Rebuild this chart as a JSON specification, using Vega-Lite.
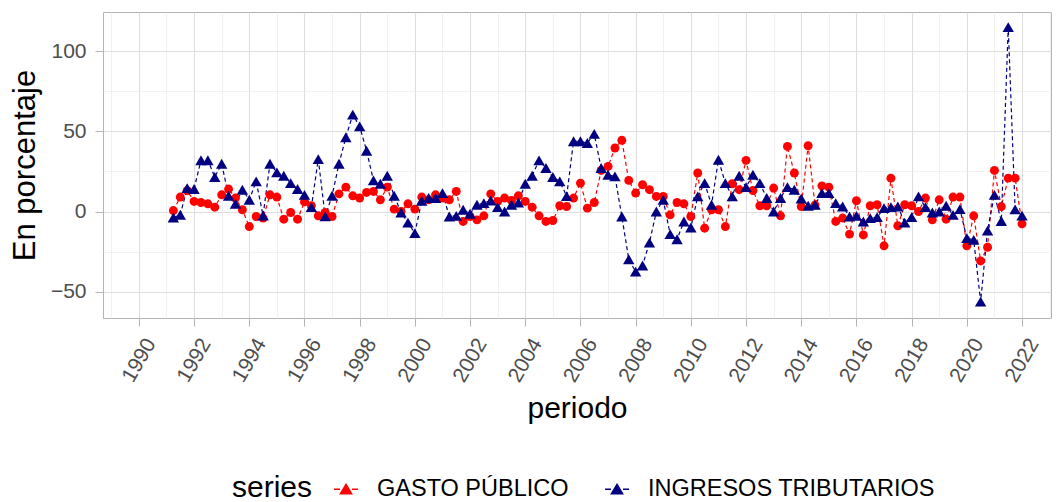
{
  "$schema": "https://vega.github.io/schema/vega-lite/v6.json",
  "width": 948,
  "height": 306,
  "autosize": {"type": "none"},
  "padding": {"left": 103, "top": 12, "right": 8, "bottom": 184},
  "background": "white",
  "config": {
    "font": "Liberation Sans",
    "view": {"stroke": "#B3B3B3", "strokeWidth": 1}
  },
  "data": {"values": [
    {"periodo":1991.25,"valor":0.6,"series":"GASTO PÚBLICO"},{"periodo":1991.5,"valor":9,"series":"GASTO PÚBLICO"},{"periodo":1991.75,"valor":13,"series":"GASTO PÚBLICO"},
    {"periodo":1992,"valor":6.3,"series":"GASTO PÚBLICO"},{"periodo":1992.25,"valor":5.6,"series":"GASTO PÚBLICO"},{"periodo":1992.5,"valor":4.8,"series":"GASTO PÚBLICO"},{"periodo":1992.75,"valor":2.7,"series":"GASTO PÚBLICO"},
    {"periodo":1993,"valor":10.4,"series":"GASTO PÚBLICO"},{"periodo":1993.25,"valor":14,"series":"GASTO PÚBLICO"},{"periodo":1993.5,"valor":8.4,"series":"GASTO PÚBLICO"},{"periodo":1993.75,"valor":1.1,"series":"GASTO PÚBLICO"},
    {"periodo":1994,"valor":-9.4,"series":"GASTO PÚBLICO"},{"periodo":1994.25,"valor":-3.1,"series":"GASTO PÚBLICO"},{"periodo":1994.5,"valor":-4.1,"series":"GASTO PÚBLICO"},{"periodo":1994.75,"valor":10.4,"series":"GASTO PÚBLICO"},
    {"periodo":1995,"valor":9,"series":"GASTO PÚBLICO"},{"periodo":1995.25,"valor":-4.8,"series":"GASTO PÚBLICO"},{"periodo":1995.5,"valor":-0.6,"series":"GASTO PÚBLICO"},{"periodo":1995.75,"valor":-4.8,"series":"GASTO PÚBLICO"},
    {"periodo":1996,"valor":6,"series":"GASTO PÚBLICO"},{"periodo":1996.25,"valor":3.6,"series":"GASTO PÚBLICO"},{"periodo":1996.5,"valor":-2.7,"series":"GASTO PÚBLICO"},{"periodo":1996.75,"valor":-0.6,"series":"GASTO PÚBLICO"},
    {"periodo":1997,"valor":-3.1,"series":"GASTO PÚBLICO"},{"periodo":1997.25,"valor":11,"series":"GASTO PÚBLICO"},{"periodo":1997.5,"valor":15.2,"series":"GASTO PÚBLICO"},{"periodo":1997.75,"valor":9.8,"series":"GASTO PÚBLICO"},
    {"periodo":1998,"valor":8.4,"series":"GASTO PÚBLICO"},{"periodo":1998.25,"valor":11.9,"series":"GASTO PÚBLICO"},{"periodo":1998.5,"valor":12.5,"series":"GASTO PÚBLICO"},{"periodo":1998.75,"valor":7.3,"series":"GASTO PÚBLICO"},
    {"periodo":1999,"valor":15.2,"series":"GASTO PÚBLICO"},{"periodo":1999.25,"valor":1.5,"series":"GASTO PÚBLICO"},{"periodo":1999.5,"valor":0,"series":"GASTO PÚBLICO"},{"periodo":1999.75,"valor":4.8,"series":"GASTO PÚBLICO"},
    {"periodo":2000,"valor":1.5,"series":"GASTO PÚBLICO"},{"periodo":2000.25,"valor":9,"series":"GASTO PÚBLICO"},{"periodo":2000.5,"valor":7.3,"series":"GASTO PÚBLICO"},{"periodo":2000.75,"valor":10.4,"series":"GASTO PÚBLICO"},
    {"periodo":2001,"valor":8.4,"series":"GASTO PÚBLICO"},{"periodo":2001.25,"valor":7.3,"series":"GASTO PÚBLICO"},{"periodo":2001.5,"valor":12.5,"series":"GASTO PÚBLICO"},{"periodo":2001.75,"valor":-6.2,"series":"GASTO PÚBLICO"},
    {"periodo":2002,"valor":-3.1,"series":"GASTO PÚBLICO"},{"periodo":2002.25,"valor":-5.2,"series":"GASTO PÚBLICO"},{"periodo":2002.5,"valor":-2.7,"series":"GASTO PÚBLICO"},{"periodo":2002.75,"valor":11,"series":"GASTO PÚBLICO"},
    {"periodo":2003,"valor":6.3,"series":"GASTO PÚBLICO"},{"periodo":2003.25,"valor":8.4,"series":"GASTO PÚBLICO"},{"periodo":2003.5,"valor":6.9,"series":"GASTO PÚBLICO"},{"periodo":2003.75,"valor":9.8,"series":"GASTO PÚBLICO"},
    {"periodo":2004,"valor":6.3,"series":"GASTO PÚBLICO"},{"periodo":2004.25,"valor":2.7,"series":"GASTO PÚBLICO"},{"periodo":2004.5,"valor":-2.7,"series":"GASTO PÚBLICO"},{"periodo":2004.75,"valor":-6.2,"series":"GASTO PÚBLICO"},
    {"periodo":2005,"valor":-5.6,"series":"GASTO PÚBLICO"},{"periodo":2005.25,"valor":3.6,"series":"GASTO PÚBLICO"},{"periodo":2005.5,"valor":3.1,"series":"GASTO PÚBLICO"},{"periodo":2005.75,"valor":8.4,"series":"GASTO PÚBLICO"},
    {"periodo":2006,"valor":17.7,"series":"GASTO PÚBLICO"},{"periodo":2006.25,"valor":2.1,"series":"GASTO PÚBLICO"},{"periodo":2006.5,"valor":5.6,"series":"GASTO PÚBLICO"},{"periodo":2006.75,"valor":25.6,"series":"GASTO PÚBLICO"},
    {"periodo":2007,"valor":28.1,"series":"GASTO PÚBLICO"},{"periodo":2007.25,"valor":39.6,"series":"GASTO PÚBLICO"},{"periodo":2007.5,"valor":44.4,"series":"GASTO PÚBLICO"},{"periodo":2007.75,"valor":19.4,"series":"GASTO PÚBLICO"},
    {"periodo":2008,"valor":11.5,"series":"GASTO PÚBLICO"},{"periodo":2008.25,"valor":16.7,"series":"GASTO PÚBLICO"},{"periodo":2008.5,"valor":13.6,"series":"GASTO PÚBLICO"},{"periodo":2008.75,"valor":9.4,"series":"GASTO PÚBLICO"},
    {"periodo":2009,"valor":9.4,"series":"GASTO PÚBLICO"},{"periodo":2009.25,"valor":-2.1,"series":"GASTO PÚBLICO"},{"periodo":2009.5,"valor":5.6,"series":"GASTO PÚBLICO"},{"periodo":2009.75,"valor":4.8,"series":"GASTO PÚBLICO"},
    {"periodo":2010,"valor":-3.1,"series":"GASTO PÚBLICO"},{"periodo":2010.25,"valor":24,"series":"GASTO PÚBLICO"},{"periodo":2010.5,"valor":-10.4,"series":"GASTO PÚBLICO"},{"periodo":2010.75,"valor":1.1,"series":"GASTO PÚBLICO"},
    {"periodo":2011,"valor":1.1,"series":"GASTO PÚBLICO"},{"periodo":2011.25,"valor":-9.4,"series":"GASTO PÚBLICO"},{"periodo":2011.5,"valor":17.3,"series":"GASTO PÚBLICO"},{"periodo":2011.75,"valor":13.6,"series":"GASTO PÚBLICO"},
    {"periodo":2012,"valor":31.9,"series":"GASTO PÚBLICO"},{"periodo":2012.25,"valor":13.1,"series":"GASTO PÚBLICO"},{"periodo":2012.5,"valor":3.6,"series":"GASTO PÚBLICO"},{"periodo":2012.75,"valor":3.6,"series":"GASTO PÚBLICO"},
    {"periodo":2013,"valor":14.6,"series":"GASTO PÚBLICO"},{"periodo":2013.25,"valor":-2.7,"series":"GASTO PÚBLICO"},{"periodo":2013.5,"valor":40.6,"series":"GASTO PÚBLICO"},{"periodo":2013.75,"valor":24,"series":"GASTO PÚBLICO"},
    {"periodo":2014,"valor":3.1,"series":"GASTO PÚBLICO"},{"periodo":2014.25,"valor":41,"series":"GASTO PÚBLICO"},{"periodo":2014.5,"valor":4,"series":"GASTO PÚBLICO"},{"periodo":2014.75,"valor":16,"series":"GASTO PÚBLICO"},
    {"periodo":2015,"valor":15.2,"series":"GASTO PÚBLICO"},{"periodo":2015.25,"valor":-6.2,"series":"GASTO PÚBLICO"},{"periodo":2015.5,"valor":-4.1,"series":"GASTO PÚBLICO"},{"periodo":2015.75,"valor":-14.1,"series":"GASTO PÚBLICO"},
    {"periodo":2016,"valor":6.7,"series":"GASTO PÚBLICO"},{"periodo":2016.25,"valor":-14.6,"series":"GASTO PÚBLICO"},{"periodo":2016.5,"valor":3.6,"series":"GASTO PÚBLICO"},{"periodo":2016.75,"valor":4.2,"series":"GASTO PÚBLICO"},
    {"periodo":2017,"valor":-21.4,"series":"GASTO PÚBLICO"},{"periodo":2017.25,"valor":20.8,"series":"GASTO PÚBLICO"},{"periodo":2017.5,"valor":-8.9,"series":"GASTO PÚBLICO"},{"periodo":2017.75,"valor":4.2,"series":"GASTO PÚBLICO"},
    {"periodo":2018,"valor":3.6,"series":"GASTO PÚBLICO"},{"periodo":2018.25,"valor":0,"series":"GASTO PÚBLICO"},{"periodo":2018.5,"valor":8.4,"series":"GASTO PÚBLICO"},{"periodo":2018.75,"valor":-5.2,"series":"GASTO PÚBLICO"},
    {"periodo":2019,"valor":7.3,"series":"GASTO PÚBLICO"},{"periodo":2019.25,"valor":-4.8,"series":"GASTO PÚBLICO"},{"periodo":2019.5,"valor":9,"series":"GASTO PÚBLICO"},{"periodo":2019.75,"valor":9,"series":"GASTO PÚBLICO"},
    {"periodo":2020,"valor":-21.4,"series":"GASTO PÚBLICO"},{"periodo":2020.25,"valor":-2.7,"series":"GASTO PÚBLICO"},{"periodo":2020.5,"valor":-30.8,"series":"GASTO PÚBLICO"},{"periodo":2020.75,"valor":-22.3,"series":"GASTO PÚBLICO"},
    {"periodo":2021,"valor":25.6,"series":"GASTO PÚBLICO"},{"periodo":2021.25,"valor":3.1,"series":"GASTO PÚBLICO"},{"periodo":2021.5,"valor":20.8,"series":"GASTO PÚBLICO"},{"periodo":2021.75,"valor":20.8,"series":"GASTO PÚBLICO"},
    {"periodo":2022,"valor":-7.7,"series":"GASTO PÚBLICO"},
    {"periodo":1991.25,"valor":-3.7,"series":"INGRESOS TRIBUTARIOS"},{"periodo":1991.5,"valor":-2,"series":"INGRESOS TRIBUTARIOS"},{"periodo":1991.75,"valor":14.6,"series":"INGRESOS TRIBUTARIOS"},
    {"periodo":1992,"valor":14,"series":"INGRESOS TRIBUTARIOS"},{"periodo":1992.25,"valor":32,"series":"INGRESOS TRIBUTARIOS"},{"periodo":1992.5,"valor":32,"series":"INGRESOS TRIBUTARIOS"},{"periodo":1992.75,"valor":21.5,"series":"INGRESOS TRIBUTARIOS"},
    {"periodo":1993,"valor":29.8,"series":"INGRESOS TRIBUTARIOS"},{"periodo":1993.25,"valor":9.8,"series":"INGRESOS TRIBUTARIOS"},{"periodo":1993.5,"valor":4.8,"series":"INGRESOS TRIBUTARIOS"},{"periodo":1993.75,"valor":13.6,"series":"INGRESOS TRIBUTARIOS"},
    {"periodo":1994,"valor":7.3,"series":"INGRESOS TRIBUTARIOS"},{"periodo":1994.25,"valor":18.8,"series":"INGRESOS TRIBUTARIOS"},{"periodo":1994.5,"valor":-2.5,"series":"INGRESOS TRIBUTARIOS"},{"periodo":1994.75,"valor":29.8,"series":"INGRESOS TRIBUTARIOS"},
    {"periodo":1995,"valor":24.4,"series":"INGRESOS TRIBUTARIOS"},{"periodo":1995.25,"valor":22.3,"series":"INGRESOS TRIBUTARIOS"},{"periodo":1995.5,"valor":17.7,"series":"INGRESOS TRIBUTARIOS"},{"periodo":1995.75,"valor":14,"series":"INGRESOS TRIBUTARIOS"},
    {"periodo":1996,"valor":10.4,"series":"INGRESOS TRIBUTARIOS"},{"periodo":1996.25,"valor":2.7,"series":"INGRESOS TRIBUTARIOS"},{"periodo":1996.5,"valor":32.7,"series":"INGRESOS TRIBUTARIOS"},{"periodo":1996.75,"valor":-3,"series":"INGRESOS TRIBUTARIOS"},
    {"periodo":1997,"valor":9.8,"series":"INGRESOS TRIBUTARIOS"},{"periodo":1997.25,"valor":29.8,"series":"INGRESOS TRIBUTARIOS"},{"periodo":1997.5,"valor":46.3,"series":"INGRESOS TRIBUTARIOS"},{"periodo":1997.75,"valor":60.4,"series":"INGRESOS TRIBUTARIOS"},
    {"periodo":1998,"valor":53.1,"series":"INGRESOS TRIBUTARIOS"},{"periodo":1998.25,"valor":37.9,"series":"INGRESOS TRIBUTARIOS"},{"periodo":1998.5,"valor":19.4,"series":"INGRESOS TRIBUTARIOS"},{"periodo":1998.75,"valor":17.3,"series":"INGRESOS TRIBUTARIOS"},
    {"periodo":1999,"valor":22.3,"series":"INGRESOS TRIBUTARIOS"},{"periodo":1999.25,"valor":9.8,"series":"INGRESOS TRIBUTARIOS"},{"periodo":1999.5,"valor":-0.6,"series":"INGRESOS TRIBUTARIOS"},{"periodo":1999.75,"valor":-6.9,"series":"INGRESOS TRIBUTARIOS"},
    {"periodo":2000,"valor":-13.5,"series":"INGRESOS TRIBUTARIOS"},{"periodo":2000.25,"valor":6.7,"series":"INGRESOS TRIBUTARIOS"},{"periodo":2000.5,"valor":8.4,"series":"INGRESOS TRIBUTARIOS"},{"periodo":2000.75,"valor":8.4,"series":"INGRESOS TRIBUTARIOS"},
    {"periodo":2001,"valor":11.5,"series":"INGRESOS TRIBUTARIOS"},{"periodo":2001.25,"valor":-3.1,"series":"INGRESOS TRIBUTARIOS"},{"periodo":2001.5,"valor":-2.7,"series":"INGRESOS TRIBUTARIOS"},{"periodo":2001.75,"valor":1.1,"series":"INGRESOS TRIBUTARIOS"},
    {"periodo":2002,"valor":-1.4,"series":"INGRESOS TRIBUTARIOS"},{"periodo":2002.25,"valor":4.2,"series":"INGRESOS TRIBUTARIOS"},{"periodo":2002.5,"valor":5.2,"series":"INGRESOS TRIBUTARIOS"},{"periodo":2002.75,"valor":6.9,"series":"INGRESOS TRIBUTARIOS"},
    {"periodo":2003,"valor":2.7,"series":"INGRESOS TRIBUTARIOS"},{"periodo":2003.25,"valor":0,"series":"INGRESOS TRIBUTARIOS"},{"periodo":2003.5,"valor":4.2,"series":"INGRESOS TRIBUTARIOS"},{"periodo":2003.75,"valor":5.6,"series":"INGRESOS TRIBUTARIOS"},
    {"periodo":2004,"valor":17.3,"series":"INGRESOS TRIBUTARIOS"},{"periodo":2004.25,"valor":22.3,"series":"INGRESOS TRIBUTARIOS"},{"periodo":2004.5,"valor":31.9,"series":"INGRESOS TRIBUTARIOS"},{"periodo":2004.75,"valor":27.1,"series":"INGRESOS TRIBUTARIOS"},
    {"periodo":2005,"valor":21.5,"series":"INGRESOS TRIBUTARIOS"},{"periodo":2005.25,"valor":18.8,"series":"INGRESOS TRIBUTARIOS"},{"periodo":2005.5,"valor":9.6,"series":"INGRESOS TRIBUTARIOS"},{"periodo":2005.75,"valor":43.8,"series":"INGRESOS TRIBUTARIOS"},
    {"periodo":2006,"valor":43.8,"series":"INGRESOS TRIBUTARIOS"},{"periodo":2006.25,"valor":42.7,"series":"INGRESOS TRIBUTARIOS"},{"periodo":2006.5,"valor":48.4,"series":"INGRESOS TRIBUTARIOS"},{"periodo":2006.75,"valor":27.1,"series":"INGRESOS TRIBUTARIOS"},
    {"periodo":2007,"valor":22.9,"series":"INGRESOS TRIBUTARIOS"},{"periodo":2007.25,"valor":21.9,"series":"INGRESOS TRIBUTARIOS"},{"periodo":2007.5,"valor":-3.1,"series":"INGRESOS TRIBUTARIOS"},{"periodo":2007.75,"valor":-29.8,"series":"INGRESOS TRIBUTARIOS"},
    {"periodo":2008,"valor":-37.5,"series":"INGRESOS TRIBUTARIOS"},{"periodo":2008.25,"valor":-33.7,"series":"INGRESOS TRIBUTARIOS"},{"periodo":2008.5,"valor":-19.4,"series":"INGRESOS TRIBUTARIOS"},{"periodo":2008.75,"valor":0,"series":"INGRESOS TRIBUTARIOS"},
    {"periodo":2009,"valor":7.3,"series":"INGRESOS TRIBUTARIOS"},{"periodo":2009.25,"valor":-14.1,"series":"INGRESOS TRIBUTARIOS"},{"periodo":2009.5,"valor":-17.3,"series":"INGRESOS TRIBUTARIOS"},{"periodo":2009.75,"valor":-6.2,"series":"INGRESOS TRIBUTARIOS"},
    {"periodo":2010,"valor":-10,"series":"INGRESOS TRIBUTARIOS"},{"periodo":2010.25,"valor":9.4,"series":"INGRESOS TRIBUTARIOS"},{"periodo":2010.5,"valor":17.7,"series":"INGRESOS TRIBUTARIOS"},{"periodo":2010.75,"valor":4.2,"series":"INGRESOS TRIBUTARIOS"},
    {"periodo":2011,"valor":32.3,"series":"INGRESOS TRIBUTARIOS"},{"periodo":2011.25,"valor":17.7,"series":"INGRESOS TRIBUTARIOS"},{"periodo":2011.5,"valor":9.4,"series":"INGRESOS TRIBUTARIOS"},{"periodo":2011.75,"valor":22.3,"series":"INGRESOS TRIBUTARIOS"},
    {"periodo":2012,"valor":15.2,"series":"INGRESOS TRIBUTARIOS"},{"periodo":2012.25,"valor":22.9,"series":"INGRESOS TRIBUTARIOS"},{"periodo":2012.5,"valor":17.7,"series":"INGRESOS TRIBUTARIOS"},{"periodo":2012.75,"valor":8.4,"series":"INGRESOS TRIBUTARIOS"},
    {"periodo":2013,"valor":0,"series":"INGRESOS TRIBUTARIOS"},{"periodo":2013.25,"valor":8.4,"series":"INGRESOS TRIBUTARIOS"},{"periodo":2013.5,"valor":15.2,"series":"INGRESOS TRIBUTARIOS"},{"periodo":2013.75,"valor":13.6,"series":"INGRESOS TRIBUTARIOS"},
    {"periodo":2014,"valor":8,"series":"INGRESOS TRIBUTARIOS"},{"periodo":2014.25,"valor":3.6,"series":"INGRESOS TRIBUTARIOS"},{"periodo":2014.5,"valor":4.2,"series":"INGRESOS TRIBUTARIOS"},{"periodo":2014.75,"valor":11.5,"series":"INGRESOS TRIBUTARIOS"},
    {"periodo":2015,"valor":11.5,"series":"INGRESOS TRIBUTARIOS"},{"periodo":2015.25,"valor":5.2,"series":"INGRESOS TRIBUTARIOS"},{"periodo":2015.5,"valor":3.1,"series":"INGRESOS TRIBUTARIOS"},{"periodo":2015.75,"valor":-3.1,"series":"INGRESOS TRIBUTARIOS"},
    {"periodo":2016,"valor":-2.7,"series":"INGRESOS TRIBUTARIOS"},{"periodo":2016.25,"valor":-6.2,"series":"INGRESOS TRIBUTARIOS"},{"periodo":2016.5,"valor":-4.1,"series":"INGRESOS TRIBUTARIOS"},{"periodo":2016.75,"valor":-3.5,"series":"INGRESOS TRIBUTARIOS"},
    {"periodo":2017,"valor":2.1,"series":"INGRESOS TRIBUTARIOS"},{"periodo":2017.25,"valor":2.7,"series":"INGRESOS TRIBUTARIOS"},{"periodo":2017.5,"valor":3.1,"series":"INGRESOS TRIBUTARIOS"},{"periodo":2017.75,"valor":-6.9,"series":"INGRESOS TRIBUTARIOS"},
    {"periodo":2018,"valor":-3.5,"series":"INGRESOS TRIBUTARIOS"},{"periodo":2018.25,"valor":9.4,"series":"INGRESOS TRIBUTARIOS"},{"periodo":2018.5,"valor":2.7,"series":"INGRESOS TRIBUTARIOS"},{"periodo":2018.75,"valor":-0.6,"series":"INGRESOS TRIBUTARIOS"},
    {"periodo":2019,"valor":0,"series":"INGRESOS TRIBUTARIOS"},{"periodo":2019.25,"valor":3.6,"series":"INGRESOS TRIBUTARIOS"},{"periodo":2019.5,"valor":-2.1,"series":"INGRESOS TRIBUTARIOS"},{"periodo":2019.75,"valor":1.5,"series":"INGRESOS TRIBUTARIOS"},
    {"periodo":2020,"valor":-16.6,"series":"INGRESOS TRIBUTARIOS"},{"periodo":2020.25,"valor":-17.7,"series":"INGRESOS TRIBUTARIOS"},{"periodo":2020.5,"valor":-56.2,"series":"INGRESOS TRIBUTARIOS"},{"periodo":2020.75,"valor":-11.9,"series":"INGRESOS TRIBUTARIOS"},
    {"periodo":2021,"valor":10.4,"series":"INGRESOS TRIBUTARIOS"},{"periodo":2021.25,"valor":-5.9,"series":"INGRESOS TRIBUTARIOS"},{"periodo":2021.5,"valor":115,"series":"INGRESOS TRIBUTARIOS"},{"periodo":2021.75,"valor":1.3,"series":"INGRESOS TRIBUTARIOS"},
    {"periodo":2022,"valor":-2.6,"series":"INGRESOS TRIBUTARIOS"}
  ]},
  "resolve": {"axis": {"x": "independent", "y": "independent"}, "legend": {"color": "independent"}},
  "layer": [
    {
      "mark": {"type": "line", "strokeDash": [4, 3], "strokeWidth": 1.2},
      "encoding": {
        "x": {"field": "periodo", "type": "quantitative",
              "scale": {"domain": [1988.7, 2023.05], "nice": false, "zero": false},
              "axis": {"values": [1989,1991,1993,1995,1997,1999,2001,2003,2005,2007,2009,2011,2013,2015,2017,2019,2021,2023],
                       "grid": true, "gridColor": "#EBEBEB", "gridWidth": 0.7, "labels": false, "ticks": false, "domain": false, "title": null, "orient": "bottom"}},
        "y": {"field": "valor", "type": "quantitative",
              "scale": {"domain": [-66.4, 124.4], "nice": false, "zero": false},
              "axis": {"values": [-25, 25, 75], "grid": true, "gridColor": "#EBEBEB", "gridWidth": 0.7, "labels": false, "ticks": false, "domain": false, "title": null, "orient": "left"}},
        "color": {"field": "series", "type": "nominal",
                  "scale": {"domain": ["GASTO PÚBLICO", "INGRESOS TRIBUTARIOS"], "range": ["#FF0000", "#000080"]},
                  "legend": {"orient": "none", "legendX": 129, "legendY": 464, "direction": "horizontal",
                             "title": "series", "titleOrient": "left", "titleFontSize": 30, "titleFontWeight": "normal", "titleColor": "#000000", "titlePadding": 20,
                             "labelFontSize": 23.5, "labelColor": "#000000", "labelLimit": 500,
                             "symbolType": "M-1,0H-0.5M0.5,0H1M0,-0.4L0.46,0.38L-0.46,0.38ZM0,-0.2L0.24,0.24L-0.24,0.24ZM0,0L0.08,0.15L-0.08,0.15Z",
                             "symbolSize": 576, "symbolStrokeWidth": 1.6, "symbolDash": [], "labelOffset": 18, "columnPadding": 32,
                             "encode": {"symbols": {"update": {"fill": {"scale": "color", "field": "value"}, "opacity": {"value": 1}}}}}}
      }
    },
    {
      "mark": {"type": "point", "filled": true, "opacity": 1},
      "encoding": {
        "x": {"field": "periodo", "type": "quantitative",
              "axis": {"values": [1990,1992,1994,1996,1998,2000,2002,2004,2006,2008,2010,2012,2014,2016,2018,2020,2022],
                       "format": "d", "grid": true, "gridColor": "#DEDEDE", "gridWidth": 1.1,
                       "labelAngle": -60, "labelAlign": "center", "labelBaseline": "middle", "labelPadding": 34,
                       "labelFontSize": 21, "labelColor": "#4D4D4D", "labelOverlap": false, "labelFlush": false,
                       "tickColor": "#B3B3B3", "tickSize": 8, "tickWidth": 1, "domain": false,
                       "title": "periodo", "titleFontSize": 30, "titleFontWeight": "normal", "titleColor": "#000000", "titlePadding": 8, "orient": "bottom"}},
        "y": {"field": "valor", "type": "quantitative",
              "axis": {"values": [-50, 0, 50, 100], "grid": true, "gridColor": "#DEDEDE", "gridWidth": 1.1,
                       "labelFontSize": 21, "labelColor": "#4D4D4D", "labelPadding": 9,
                       "tickColor": "#B3B3B3", "tickSize": 8, "tickWidth": 1, "domain": false,
                       "title": "En porcentaje", "titleFontSize": 31, "titleFontWeight": "normal", "titleColor": "#000000", "titlePadding": 9, "orient": "left"}},
        "color": {"field": "series", "type": "nominal",
                  "scale": {"domain": ["GASTO PÚBLICO", "INGRESOS TRIBUTARIOS"], "range": ["#FF0000", "#000080"]},
                  "legend": null},
        "shape": {"field": "series", "type": "nominal",
                  "scale": {"domain": ["GASTO PÚBLICO", "INGRESOS TRIBUTARIOS"], "range": ["circle", "triangle-up"]}, "legend": null},
        "size": {"field": "series", "type": "nominal",
                 "scale": {"domain": ["GASTO PÚBLICO", "INGRESOS TRIBUTARIOS"], "range": [80, 130]}, "legend": null}
      }
    }
  ]
}
